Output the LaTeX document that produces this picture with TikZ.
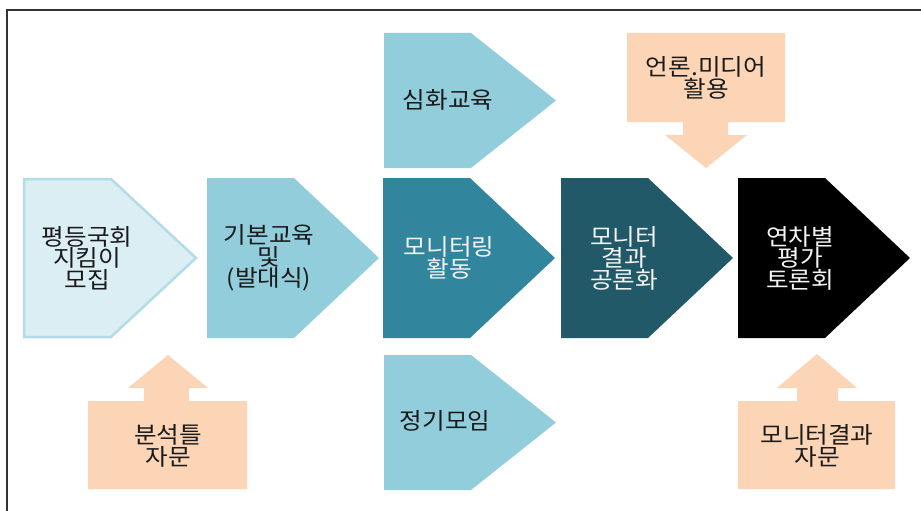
\documentclass[tikz,border=0pt]{standalone}
\usepackage{fontspec}
\newfontfamily\kr[FakeStretch=1.07]{Noto Sans CJK KR}
\definecolor{framec}{HTML}{333333}
\definecolor{c1fill}{HTML}{DAEEF3}
\definecolor{c1line}{HTML}{B4DCE7}
\definecolor{c2}{HTML}{92CDDC}
\definecolor{c3}{HTML}{31859C}
\definecolor{c4}{HTML}{215968}
\definecolor{c5}{HTML}{000000}
\definecolor{orng}{HTML}{FBD5B5}
\definecolor{darktxt}{HTML}{1A1A1A}
\definecolor{lighttxt}{HTML}{F4F4F4}
\newcommand\mychev[4][]{%
  \path[#1] (#2,#3) -- (#2+87,#3) -- (#2+172,{(#3+#4)/2}) -- (#2+87,#4) -- (#2,#4) -- cycle;}
\tikzset{
  lbl/.style={font=\kr\fontsize{23}{21.5}\selectfont, align=center, inner sep=0pt},
  dk/.style={lbl, text=darktxt},
  wt/.style={lbl, text=lighttxt},
  orangeshape/.style={fill=orng}
}
\begin{document}
\begin{tikzpicture}[x=1pt,y=-1pt]
\useasboundingbox (0,0) rectangle (921,511);
\fill[white] (0,0) rectangle (921,511);
\draw[framec, line width=1.3pt] (7,511) -- (7,10) -- (921,10);

% main chevrons
\mychev[fill=c1fill, draw=c1line, line width=2.5pt, line join=miter]{24}{179}{337}
\mychev[fill=c2]{207}{178}{338}
\mychev[fill=c3]{383}{178}{338}
\mychev[fill=c4]{561}{178}{338}
\mychev[fill=c5]{738}{178}{338}
% side chevrons
\mychev[fill=c2]{384}{33}{168}
\mychev[fill=c2]{384}{355}{490}

\node[dk] (n1) at (87,258) {평등국회\\지킴이\\모집};
\node[dk] (n2) at (269,258) {기본교육\\및\\(발대식)};
\node[wt] (n3) at (449,258) {모니터링\\활동};
\node[wt] (n4) at (624,258) {모니터\\결과\\공론화};
\node[wt] (n5) at (800,258) {연차별\\평가\\토론회};
\node[dk] (s1) at (448,100) {심화교육};
\node[dk] (s2) at (445,421) {정기모임};

% orange arrows
\fill[orangeshape] (627,33) -- (785,33) -- (785,122) -- (728,122) -- (728,135) -- (747,135)
  -- (706,168) -- (665,135) -- (683,135) -- (683,122) -- (627,122) -- cycle;
\fill[orangeshape] (88,489) -- (247,489) -- (247,401) -- (189,401) -- (189,388) -- (208,388)
  -- (168,355) -- (128,388) -- (144,388) -- (144,401) -- (88,401) -- cycle;
\fill[orangeshape] (738,489) -- (895,489) -- (895,401) -- (838,401) -- (838,388) -- (857,388)
  -- (817,354) -- (777,388) -- (797,388) -- (797,401) -- (738,401) -- cycle;

\node[dk] (o1) at (706,78) {언론.미디어\\활용};
\node[dk] (o2) at (168,446) {분석틀\\자문};
\node[dk] (o3) at (817,446) {모니터결과\\자문};
\end{tikzpicture}
\end{document}
